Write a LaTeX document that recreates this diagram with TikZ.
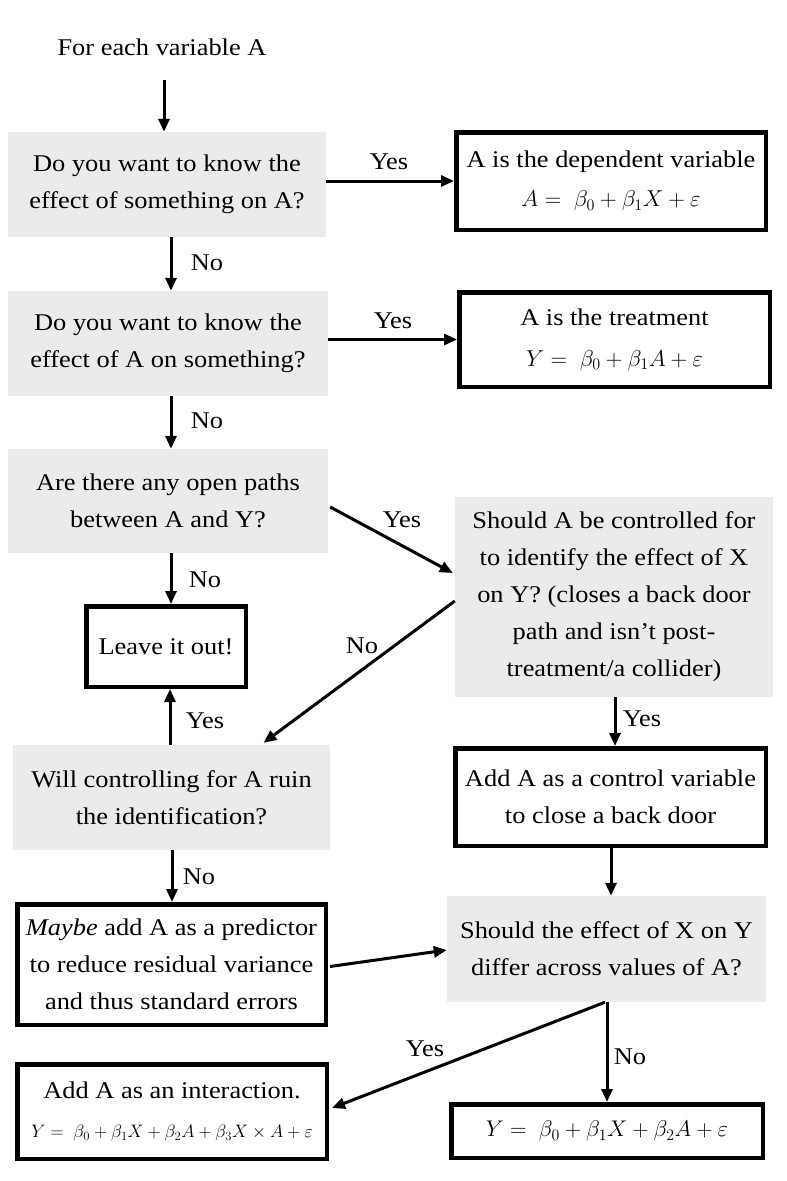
\RequirePackage{fix-cm}
\documentclass[tikz,border=0pt]{standalone}
\usepackage{fontspec}
\setmainfont[FakeStretch=1.1]{Liberation Serif}
\usetikzlibrary{arrows.meta,calc}
\definecolor{qgray}{HTML}{EBEBEB}
\begin{document}
\begin{tikzpicture}[x=1pt,y=-1pt,
 every node/.style={font=\fontsize{24}{37}\selectfont, align=center, inner sep=0pt},
 q/.style={fill=qgray, draw=none},
 r/.style={draw, line width=4.5pt, fill=white},
 arr/.style={line width=3pt, -{Triangle[length=13pt,width=11pt]}}]
\useasboundingbox[fill=white] (0,0) rectangle (787,1181);

\node (S) at (162,47) {For each variable A};

\node[q, minimum width=318pt, minimum height=105pt] (Q1) at (167,184.5) {Do you want to know the\\effect of something on A?};
\node[r, minimum width=309.5pt, minimum height=97.5pt] (R1) at (611,181) {A is the dependent variable\\[2pt]{\fontsize{23}{30}\selectfont $A=\ \beta_0+\beta_1X+\varepsilon$}};

\node[q, minimum width=320pt, minimum height=105pt] (Q2) at (168,343.5) {Do you want to know the\\effect of A on something?};
\node[r, minimum width=310.5pt, minimum height=94.5pt] (R2) at (614.5,339.5) {A is the treatment\\[4pt]{\fontsize{23}{30}\selectfont $Y=\ \beta_0+\beta_1A+\varepsilon$}};

\node[q, minimum width=320pt, minimum height=104pt] (Q3) at (168,501) {Are there any open paths\\between A and Y?};
\node[q, minimum width=318pt, minimum height=200pt] (Q4) at (614,597) {Should A be controlled for\\to identify the effect of X\\on Y? (closes a back door\\path and isn't post-\\treatment/a collider)};

\node[r, minimum width=159.5pt, minimum height=80.5pt] (L) at (166,646.5) {Leave it out!};

\node[q, minimum width=317pt, minimum height=105pt] (Q5) at (171.5,797.5) {Will controlling for A ruin\\the identification?};
\node[r, minimum width=310.5pt, minimum height=97.5pt] (R3) at (610.5,797) {Add A as a control variable\\to close a back door};

\node[r, minimum width=308.5pt, minimum height=120.5pt] (R4) at (171.5,964.5) {\textit{Maybe} add A as a predictor\\to reduce residual variance\\and thus standard errors};
\node[q, minimum width=319pt, minimum height=106pt] (Q6) at (606.5,949) {Should the effect of X on Y\\differ across values of A?};

\node[r, minimum width=309.5pt, minimum height=94.5pt] (R5) at (172,1111.5) {Add A as an interaction.\\[2pt]{\fontsize{18}{26}\selectfont $Y=\ \beta_0+\beta_1X+\beta_2A+\beta_3X\times A+\varepsilon$}};
\node[r, minimum width=311.5pt, minimum height=53.5pt] (R6) at (607,1131) {{\fontsize{22.7}{30}\selectfont $Y=\ \beta_0+\beta_1X+\beta_2A+\varepsilon$}};

% connectors
\draw[arr] (164,80) -- (164,0 |- Q1.north);
\draw[arr] (Q1.east |- R1.west) -- (R1.west);
\node (y1) at (389,162) {Yes};

\draw[arr] (171,0 |- Q1.south) -- (171,0 |- Q2.north);
\node (n1) at (207,263) {No};

\draw[arr] (Q2.east |- R2.west) -- (R2.west);
\node (y2) at (393,321) {Yes};

\draw[arr] (171,0 |- Q2.south) -- (171,0 |- Q3.north);
\node (n2) at (207,421) {No};

\draw[arr] ($(Q3.east)+(2,6)$) -- ($(Q4.west)+(-2,-24)$);
\node (y3) at (402,520) {Yes};

\draw[arr] (171,0 |- Q3.south) -- (171,0 |- L.north);
\node (n3) at (205,580) {No};

\draw[arr] ($(Q4.west)+(0,4)$) -- ($(Q5.north)+(92,-2)$);
\node (n4) at (362,646) {No};

\draw[arr] (170,0 |- Q5.north) -- (170,0 |- L.south);
\node (y4) at (205,721) {Yes};

\draw[arr] (615,0 |- Q4.south) -- (615,0 |- R3.north);
\node (y5) at (642,719) {Yes};

\draw[arr] (611,0 |- R3.south) -- (611,0 |- Q6.north);

\draw[arr] (172,0 |- Q5.south) -- (172,0 |- R4.north);
\node (n5) at (199,877) {No};

\draw[arr] ($(R4.east)+(2,2)$) -- ($(Q6.west)+(0,1)$);

\draw[arr] ($(Q6.south)+(-1.5,0)$) -- ($(R5.east)+(3,-3.5)$);
\node (y6) at (425,1049) {Yes};

\draw[arr] (607,0 |- Q6.south) -- (607,0 |- R6.north);
\node (n6) at (630,1057) {No};
\end{tikzpicture}
\end{document}
